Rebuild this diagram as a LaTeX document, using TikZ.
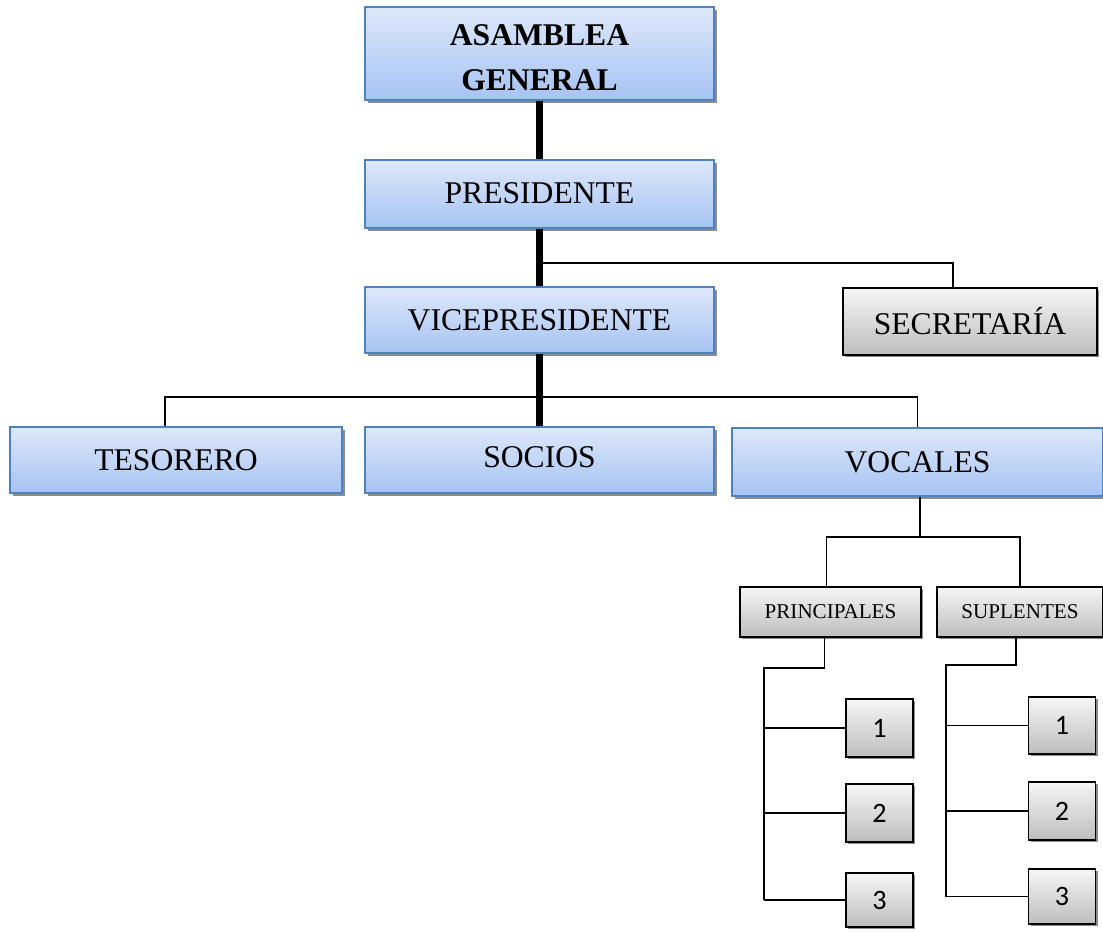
\documentclass[tikz,border=0pt]{standalone}
\usepackage{fontspec}
\setmainfont{Liberation Serif}
\newfontfamily\numfont{Carlito}
\usetikzlibrary{shadows}
\definecolor{boxtop}{HTML}{DEE8FA}
\definecolor{boxbot}{HTML}{A6C3F3}
\definecolor{boxline}{HTML}{4F81BD}
\definecolor{graytop}{HTML}{F6F6F6}
\definecolor{graybot}{HTML}{BDBDBD}
\newcommand{\px}{0.02cm}

\begin{document}
\begin{tikzpicture}[
            x=0.02cm, y=-0.02cm,
            bluebox/.style = {rectangle, draw=boxline, line width=1.1pt, top color=boxtop, bottom color=boxbot, inner sep=0pt, align=center, font=\fontsize{18}{24}\selectfont, drop shadow={shadow xshift=1.6pt, shadow yshift=-1.7pt, fill=black!45, opacity=1}},
            graybox/.style = {rectangle, draw=black, line width=1.1pt, top color=graytop, bottom color=graybot, inner sep=0pt, align=center, drop shadow={shadow xshift=1.3pt, shadow yshift=-1.4pt, fill=black!45, opacity=1}},
            numbox/.style = {graybox, minimum width=67*\px, font=\numfont\fontsize{16}{18}\selectfont},
            trunk/.style = {line width=4pt},
            conn/.style = {line width=1.1pt}]
            \useasboundingbox (0,0) rectangle (1103,931);
            % nodes
            \node (asamblea) [bluebox, minimum width=349*\px, minimum height=93*\px] at (539.5,53.5) {\raisebox{-3.5pt}[\height][\depth]{\begin{tabular}{@{}c@{}}\textbf{ASAMBLEA}\\[1.5pt]\textbf{GENERAL}\end{tabular}}};
            \node (presidente) [bluebox, minimum width=349*\px, minimum height=68*\px] at (539.5,194) {\raisebox{1pt}{PRESIDENTE}};
            \node (vice) [bluebox, minimum width=349*\px, minimum height=66*\px] at (539.5,320) {VICEPRESIDENTE};
            \node (secretaria) [graybox, minimum width=254*\px, minimum height=67*\px, font=\fontsize{18}{24}\selectfont] at (970,321.5) {SECRETARÍA};
            \node (tesorero) [bluebox, minimum width=332*\px, minimum height=66*\px] at (176,460) {TESORERO};
            \node (socios) [bluebox, minimum width=349*\px, minimum height=66*\px] at (539.5,460) {\raisebox{3pt}{SOCIOS}};
            \node (vocales) [bluebox, minimum width=371*\px, minimum height=68*\px] at (917.5,462) {VOCALES};
            \begin{scope}[every node/.style={graybox, minimum height=50*\px, font=\fontsize{12}{14}\selectfont}]
            \node (principales) [minimum width=181*\px] at (830.5,612) {PRINCIPALES};
            \node (suplentes) [minimum width=166*\px] at (1020,612) {SUPLENTES};
            \end{scope}
            \node (p1) [numbox, minimum height=58*\px] at (879.5,728) {1};
            \node (p2) [numbox, minimum height=58*\px] at (879.5,813) {2};
            \node (p3) [numbox, minimum height=54*\px] at (879.5,900) {3};
            \node (s1) [numbox, minimum height=57*\px] at (1062,725.5) {1};
            \node (s2) [numbox, minimum height=58*\px] at (1062,811) {2};
            \node (s3) [numbox, minimum height=55*\px] at (1062,896.5) {3};
            % junctions
            \coordinate (jsec) at (541,263);
            \coordinate (bar1) at (541,397);
            \coordinate (bar2) at (920,537);
            \coordinate (pl) at (764,668);
            \coordinate (sl) at (946,665);
            % Connections
            \draw [trunk] (asamblea.south) -- (presidente.north);
            \draw [trunk] (presidente.south) -- (vice.north);
            \draw [trunk] (vice.south) -- (socios.north);
            \draw [conn] (jsec) -| ([xshift=-17*\px]secretaria.north);
            \draw [conn] ([xshift=-11*\px]tesorero.north) |- (bar1) -| (vocales.north);
            \draw [conn] (vocales.south -| bar2) -- (bar2);
            \draw [conn] ([xshift=-4*\px]principales.north) |- (bar2) -| (suplentes.north);
            \draw [conn] ([xshift=-6*\px]principales.south) |- (pl) -- (pl |- p3.west);
            \draw [conn] ([xshift=-4*\px]suplentes.south) |- (sl) -- (sl |- s3.west);
            \foreach \i in {1,2,3} {
                \draw [conn] (pl |- p\i.west) -- (p\i.west);
                \draw [conn] (sl |- s\i.west) -- (s\i.west);
            }
        \end{tikzpicture}
\end{document}
